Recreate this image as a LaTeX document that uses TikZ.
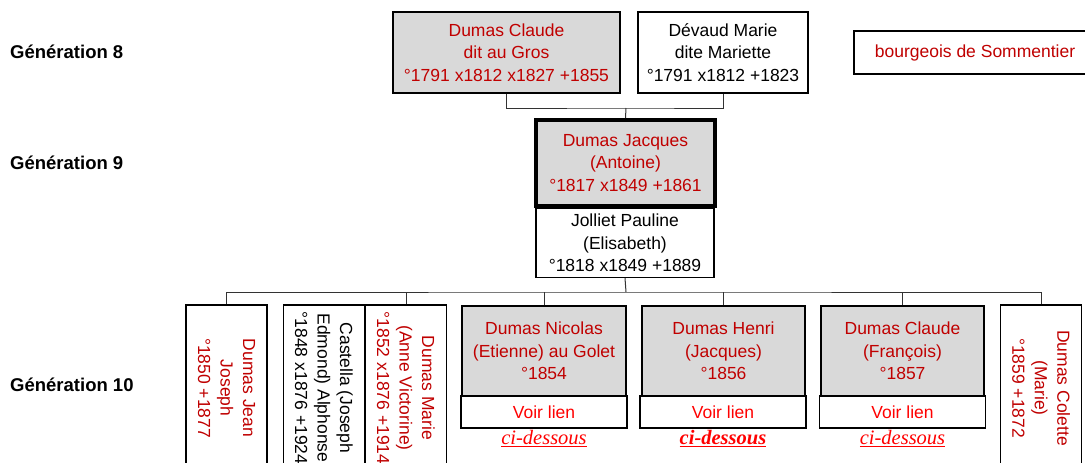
\documentclass[tikz,border=0pt]{standalone}
\usepackage{fontspec}
\setmainfont{Liberation Sans}
\newfontfamily\lienfont{Liberation Serif}
\definecolor{nomrouge}{RGB}{192,0,0}
\definecolor{lienrouge}{RGB}{255,0,0}
\definecolor{fondgris}{RGB}{217,217,217}
\tikzset{
  fiche/.style={draw, line width=1.2pt, align=center, inner sep=0pt, font=\fontsize{17.5}{22.5}\selectfont},
  ancetre/.style={fiche, fill=fondgris, text=nomrouge},
  conjoint/.style={fiche, fill=white, text=black},
  debout/.style={fiche, fill=white, rotate=-90, minimum width=166pt, minimum height=81pt},
  lien/.style={fiche, fill=white, text=lienrouge, minimum height=32pt},
  cidessous/.style={text=lienrouge, inner sep=0pt, font=\lienfont\itshape\fontsize{20.5}{22}\selectfont},
  gen/.style={anchor=west, inner sep=0pt, font=\bfseries\fontsize{18.5}{22}\selectfont},
  trait/.style={line width=1pt, black!80}
}
\begin{document}
\begin{tikzpicture}[x=1pt,y=-1pt]
	\useasboundingbox (0,0) rectangle (1085,463);
	\clip (0,0) rectangle (1085,463);
	\fill[white] (0,0) rectangle (1085,463);

	\node[gen] (gen8) at (10,52) {Génération 8};
	\node[gen] (gen9) at (10,163) {Génération 9};
	\node[gen] (gen10) at (10,385) {Génération 10};

	\node[ancetre, minimum width=227pt, minimum height=81pt] (claude8) at (506.5,52.5) {Dumas Claude\\dit au Gros\\°1791 x1812 x1827 +1855};
	\node[conjoint, minimum width=170pt, minimum height=81pt] (devaud) at (723,52.5) {Dévaud Marie\\dite Mariette\\°1791 x1812 +1823};
	\node[fiche, text=nomrouge, minimum width=242pt, minimum height=43pt] (bourgeois) at (975,52.5) {bourgeois de Sommentier};

	\node[ancetre, line width=4pt, minimum width=179pt, minimum height=86pt] (jacques) at (625.5,163) {Dumas Jacques\\(Antoine)\\°1817 x1849 +1861};
	\node[conjoint, minimum width=178pt, minimum height=69pt] (jolliet) at (625,243) {Jolliet Pauline\\(Elisabeth)\\°1818 x1849 +1889};

	\node[debout, text=nomrouge] (jean) at (226.5,388) {Dumas Jean\\Joseph\\°1850 +1877};
	\node[debout, text=black] (castella) at (324,388) {Castella (Joseph\\Edmond) Alphonse\\°1848 x1876 +1924};
	\node[debout, text=nomrouge] (marie) at (406,388) {Dumas Marie\\(Anne Victorine)\\°1852 x1876 +1914};
	\node[debout, text=nomrouge] (colette) at (1041,388) {Dumas Colette\\(Marie)\\°1859 +1872};

	\node[ancetre, minimum width=164pt, minimum height=90pt] (nicolas) at (544,351) {Dumas Nicolas\\(Etienne) au Golet\\°1854};
	\node[lien, minimum width=166pt] (nicolasv) at (544,412) {Voir lien};
	\node[cidessous] (nicolasc) at (544,439) {\underline{ci-dessous}};

	\node[ancetre, minimum width=163pt, minimum height=90pt] (henri) at (723.5,351) {Dumas Henri\\(Jacques)\\°1856};
	\node[lien, minimum width=166pt] (henriv) at (723,412) {Voir lien};
	\node[cidessous, font=\lienfont\bfseries\itshape\fontsize{20.5}{22}\selectfont] (henric) at (723,439) {\underline{ci-dessous}};

	\node[ancetre, minimum width=163pt, minimum height=90pt] (claudefr) at (902.5,351) {Dumas Claude\\(François)\\°1857};
	\node[lien, minimum width=166pt] (claudev) at (902.5,412) {Voir lien};
	\node[cidessous] (claudec) at (902.5,439) {\underline{ci-dessous}};

	\coordinate (p8) at (626,108);
	\coordinate (p10) at (626,292);
	\draw[trait] (claude8.south) |- (p8) -| (devaud.south);
	\draw[trait] (p8) -- (jacques.north);
	\draw[trait] (jolliet.south) -- (p10);
	\draw[trait] (jean.west) |- (p10) -| (colette.west);
	\draw[trait] (marie.west) -- (marie.west |- p10);
	\draw[trait] (nicolas.north) -- (nicolas.north |- p10);
	\draw[trait] (henri.north) -- (henri.north |- p10);
	\draw[trait] (claudefr.north) -- (claudefr.north |- p10);
\end{tikzpicture}
\end{document}
